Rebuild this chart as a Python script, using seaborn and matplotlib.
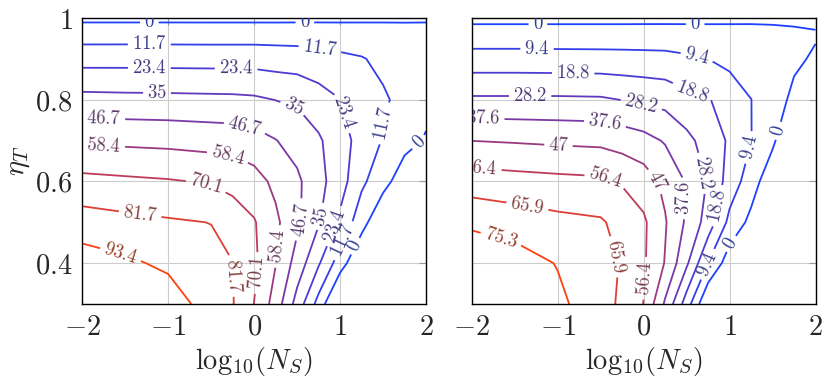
import numpy as np
import matplotlib
matplotlib.use("Agg")
import matplotlib.pyplot as plt
import seaborn as sns

# grid the field was read on: x = log10(N_S), y = eta_T
log_ns = [-2, -1.5, -1, -0.5, -0.25, 0, 0.25, 0.5, 0.75, 1, 1.25, 1.5, 1.75, 2]
eta_t = [0.3, 0.4, 0.5, 0.6, 0.7, 0.8, 0.9, 0.95, 1.0]

# values, one list per log_ns column (bottom -> top)
left_cols = [
    [104, 99.3, 87.0, 73.5, 56.8, 38.8, 19.1, 8.6, -2.4],
    [103, 95.6, 84.8, 72.2, 55.9, 38.3, 19.2, 8.6, -2.4],
    [100, 91.0, 83.0, 71.0, 55.2, 38.1, 19.1, 8.6, -2.4],
    [87.7, 84.9, 81.5, 69.1, 53.9, 37.7, 19.0, 8.5, -2.4],
    [82.3, 82.0, 75.4, 67.1, 53.3, 37.5, 19.0, 8.5, -2.4],
    [69.9, 72.5, 71.0, 62.9, 51.2, 36.8, 19.0, 8.5, -2.4],
    [53.3, 58.8, 60.8, 55.7, 47.1, 34.8, 18.1, 8.4, -2.4],
    [30.4, 41.8, 49.0, 48.9, 42.2, 33.3, 17.4, 8.3, -2.3],
    [7.3, 24.7, 36.0, 38.7, 36.6, 28.3, 16.1, 7.6, -2.1],
    [-18, 5.5, 21.0, 28.4, 27.8, 23.6, 13.9, 7.4, -2.1],
    [-39, -12, 4.6, 14.0, 19.4, 18.3, 12.5, 5.7, -1.6],
    [-45, -28, -11, 4.3, 10.9, 13.3, 8.9, 3.9, -1.1],
    [-50, -35, -20, -7, 4.0, 8.2, 5.5, 2.7, -0.8],
    [-55, -40, -25, -12, -1.0, 3.2, 3.8, 2.5, -0.7],
]

# values
right_cols = [
    [90, 83, 73.4, 61.1, 46.9, 29.7, 13.2, 5.5, -2.4],
    [84, 80, 70.9, 59.9, 46.2, 29.7, 13.2, 5.5, -2.4],
    [77.5, 74.8, 68.4, 58.9, 45.4, 29.7, 13.0, 5.5, -2.4],
    [69.3, 68.8, 67.0, 58.1, 44.8, 29.4, 12.8, 5.5, -2.4],
    [64.3, 65.3, 62.7, 55.5, 43.0, 28.0, 12.6, 5.5, -2.4],
    [56.2, 57.6, 57.9, 51.7, 40.7, 26.6, 12.4, 5.4, -2.3],
    [36.2, 46.5, 47.8, 44.7, 36.8, 25.2, 12.2, 5.2, -2.2],
    [14.1, 29.8, 36.1, 36.8, 30.7, 21.5, 10.9, 4.6, -2.0],
    [-10, 9.3, 24.2, 27.4, 24.3, 19.5, 9.4, 3.9, -1.7],
    [-24, -5.3, 6.7, 14.9, 17.5, 14.3, 7.2, 3.0, -1.3],
    [-35, -15, -2.5, 4.4, 9.6, 9.5, 5.2, 2.8, -1.2],
    [-45, -28, -15, -6.6, 1.8, 4.1, 3.0, 1.8, -0.9],
    [-55, -40, -30, -21, -11, -2.0, 1.5, 1.5, -1.1],
    [-60, -45, -35, -25, -15, -6, -1.1, 0.4, -0.55],
]

left_levels = [0, 11.7, 23.4, 35, 46.7, 58.4, 70.1, 81.7, 93.4]
right_levels = [0, 9.4, 18.8, 28.2, 37.6, 47, 56.4, 65.9, 75.3]

x_ticks = [-2, -1, 0, 1, 2]
y_ticks = [0.4, 0.6, 0.8, 1]

# where the contour labels sit (layout only)
left_label_pos = [
    (-1.22, 0.989), (0.59, 0.989), (1.90, 0.70), (1.19, 0.44),
    (-1.22, 0.936), (0.77, 0.93), (1.55, 0.74), (1.02, 0.457),
    (-1.22, 0.879), (-0.21, 0.874), (1.07, 0.77), (0.94, 0.49),
    (-1.13, 0.82), (0.46, 0.785), (0.78, 0.514),
    (-1.75, 0.757), (-0.1, 0.742), (0.57, 0.506),
    (-1.75, 0.69), (-0.3, 0.668), (0.318, 0.44),
    (-0.55, 0.598), (0.066, 0.375),
    (-1.32, 0.53), (-0.2, 0.37),
    (-1.55, 0.424),
]
right_label_pos = [
    (-1.23, 0.985), (0.6, 0.985), (1.60, 0.722), (1.04, 0.444),
    (-1.24, 0.923), (0.62, 0.905), (1.27, 0.681), (0.77, 0.395),
    (-0.82, 0.856), (0.58, 0.828), (0.87, 0.54),
    (-1.32, 0.808), (-0.02, 0.794), (0.70, 0.62),
    (-1.865, 0.753), (-0.45, 0.742), (0.5, 0.559),
    (-0.99, 0.689), (0.17, 0.604),
    (-1.9, 0.632), (-0.43, 0.616), (0.015, 0.363),
    (-1.34, 0.553), (-0.256, 0.42),
    (-1.65, 0.466),
]

sns.set_theme(style="white")
plt.rcParams.update({
    "mathtext.fontset": "cm",
    "font.family": ["DejaVu Serif"],
})

line_anchors = ["#1e40ff", "#7a38a8", "#ff4010"]


def draw_panel(ax, cols, levels, label_pos):
    z = np.array(cols).T
    colors = sns.blend_palette(line_anchors, n_colors=len(levels))
    cs = ax.contour(log_ns, eta_t, z, levels=levels, colors=colors,
                    linewidths=1.3)
    label_colors = [tuple(0.45 * np.array(c) + 0.13) for c in colors]
    ax.clabel(cs, fmt=lambda v: f"${v:g}$", inline=True, inline_spacing=4,
              fontsize=13.5, colors=label_colors, manual=label_pos)

    ax.set_xlim(-2, 2)
    ax.set_ylim(0.3, 1.0)
    ax.set_xticks(x_ticks)
    ax.set_xticklabels([f"${t:g}$" for t in x_ticks])
    ax.set_yticks(y_ticks)
    ax.set_yticklabels([f"${t:g}$" for t in y_ticks])
    ax.grid(True, color="#cccccc", linewidth=0.8)
    ax.set_axisbelow(True)
    ax.tick_params(direction="in", length=5, width=0.8, color="#9a9a9a",
                   top=True, right=True, labelsize=20.5, pad=7)
    for s in ax.spines.values():
        s.set_linewidth(1.0)
        s.set_color("black")
    ax.set_xlabel(r"$\mathrm{log}_{10}(N_S)$", fontsize=20.5, labelpad=3)


fig = plt.figure(figsize=(8.31, 3.83), dpi=100)
ax_l = fig.add_axes([0.099, 0.2063, 0.4137, 0.7467])
ax_r = fig.add_axes([0.5676, 0.2063, 0.4138, 0.7467])

draw_panel(ax_l, left_cols, left_levels, left_label_pos)
draw_panel(ax_r, right_cols, right_levels, right_label_pos)
ax_l.set_ylabel(r"$\eta_T$", fontsize=20.5, labelpad=2)
ax_r.tick_params(labelleft=False)

fig.savefig("out.png", dpi=100)
